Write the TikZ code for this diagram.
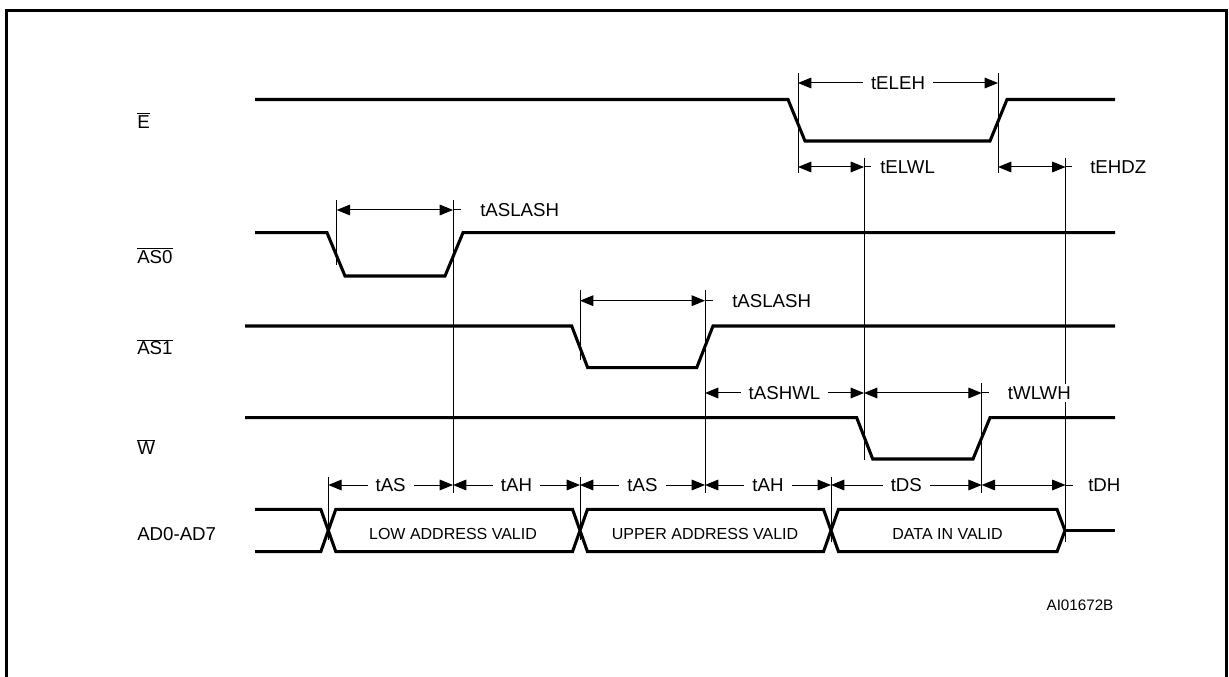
\documentclass[tikz,border=0pt]{standalone}
\usepackage{fontspec}
\setmainfont{Liberation Sans}
\usetikzlibrary{arrows.meta}
\newcommand\ovl[1]{$\overline{\hbox{#1}}$}
\begin{document}
\begin{tikzpicture}[x=0.75pt,y=-0.75pt,
  sig/.style={line width=2.3pt, line join=miter},
  frame/.style={line width=2.3pt},
  refl/.style={line width=0.75pt},
  dimarr/.style={line width=0.75pt,{Triangle[length=10pt,width=8pt]}-{Triangle[length=10pt,width=8pt]}},
  tlab/.style={font=\fontsize{14}{16}\selectfont, inner sep=0pt, anchor=west},
  mlab/.style={font=\fontsize{14}{16}\selectfont, fill=white, inner xsep=6pt, inner ysep=2pt},
  slab/.style={font=\fontsize{14}{16}\selectfont, anchor=base west, inner sep=0pt},
  blab/.style={font=\fontsize{12}{14}\selectfont, inner sep=0pt},
  idlab/.style={font=\fontsize{11.4}{13}\selectfont, inner sep=0pt}]
\useasboundingbox (0,0) rectangle (1229,677);
% frame
\draw[frame] (6.5,677) -- (6.5,10.5) -- (1226.5,10.5) -- (1226.5,677);

% signal names
\node[slab] (nE)   at (137,128.3) {\ovl{E}};
\node[slab] (nAS0) at (137,263.3) {\ovl{AS0}};
\node[slab] (nAS1) at (137,355) {\ovl{AS1}};
\node[slab] (nW)   at (137,455) {\ovl{W}};
\node[slab] (nAD)  at (137,540) {AD0-AD7};

% waveforms
\draw[sig] (255,99.5) -- (788,99.5) -- (805,141) -- (990,141) -- (1007,99.5) -- (1115,99.5);
\draw[sig] (255,232.7) -- (327,232.7) -- (345,276) -- (445,276) -- (463,232.7) -- (1115,232.7);
\draw[sig] (245,326) -- (571.7,326) -- (587.7,367.7) -- (696.7,367.7) -- (713,326) -- (1115,326);
\draw[sig] (245,417.7) -- (856.7,417.7) -- (872.7,459) -- (973,459) -- (990,417.7) -- (1115,417.7);

% bus
\draw[sig] (255,509.3) -- (320.8,509.3) -- (335.8,551.7) -- (572.5,551.7) -- (587.5,509.3) -- (823.5,509.3) -- (838.5,551.7) -- (1057,551.7) -- (1065,530.5) -- (1057,509.3) -- (838.5,509.3) -- (823.5,551.7) -- (587.5,551.7) -- (572.5,509.3) -- (335.8,509.3) -- (320.8,551.7) -- (255,551.7);
\draw[sig] (1065,530.5) -- (1115,530.5);
\node[blab] (bLow) at (453,534) {LOW ADDRESS VALID};
\node[blab] (bUp)  at (705,534) {UPPER ADDRESS VALID};
\node[blab] (bDat) at (947.5,534) {DATA IN VALID};

% reference lines
\draw[refl] (798,73) -- (798,173);
\draw[refl] (998,73) -- (998,173);
\draw[refl] (864,158) -- (864,460);
\draw[refl] (1065.5,158) -- (1065.5,542);
\draw[refl] (336.7,200) -- (336.7,265);
\draw[refl] (453,200) -- (453,493);
\draw[refl] (580,290) -- (580,360);
\draw[refl] (705,290) -- (705,493);
\draw[refl] (981.7,383) -- (981.7,493);
\draw[refl] (328.3,477) -- (328.3,540);
\draw[refl] (580,477) -- (580,540);
\draw[refl] (831,477) -- (831,542);

% E timings
\draw[dimarr] (798,83) -- node[mlab] (tELEH) {tELEH} (998,83);
\draw[dimarr] (798,167) -- (864,167);
\draw[refl] (864,167) -- (871,167);
\node[tlab] (tELWL) at (880,167) {tELWL};
\draw[dimarr] (998,167) -- (1065.5,167);
\draw[refl] (1065.5,167) -- (1072,167);
\node[tlab] (tEHDZ) at (1090,167) {tEHDZ};

% AS0
\draw[dimarr] (336.7,210) -- (453,210);
\draw[refl] (453,210) -- (461,210);
\node[tlab] (tASL0) at (480,210) {tASLASH};

% AS1
\draw[dimarr] (580,300.7) -- (705,300.7);
\draw[refl] (705,300.7) -- (713,300.7);
\node[tlab] (tASL1) at (732,300.7) {tASLASH};

% W
\draw[dimarr] (705,393) -- node[mlab] (tASHWL) {tASHWL} (864,393);
\draw[dimarr] (864,393) -- (981.7,393);
\draw[refl] (981.7,393) -- (989,393);
\node[tlab, fill=white, inner xsep=2pt, inner ysep=2pt] (tWLWH) at (1005,393) {tWLWH};

% bus timings
\draw[dimarr] (328.3,485) -- node[mlab] (tAS1) {tAS} (453,485);
\draw[dimarr] (453,485) -- node[mlab] (tAH1) {tAH} (580,485);
\draw[dimarr] (580,485) -- node[mlab] (tAS2) {tAS} (705,485);
\draw[dimarr] (705,485) -- node[mlab] (tAH2) {tAH} (831,485);
\draw[dimarr] (831,485) -- node[mlab] (tDS) {tDS} (981.7,485);
\draw[dimarr] (981.7,485) -- (1065.5,485);
\draw[refl] (1065.5,485) -- (1073,485);
\node[tlab] (tDH) at (1088,485) {tDH};

\node[idlab] (id) at (1080,605) {AI01672B};
\end{tikzpicture}
\end{document}
